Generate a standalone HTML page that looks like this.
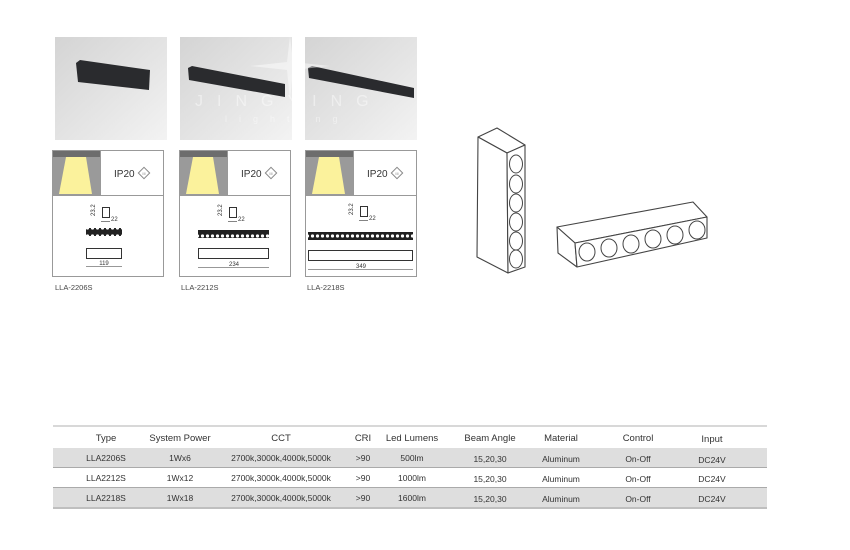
<!DOCTYPE html>
<html><head><meta charset="utf-8"><style>
html,body{margin:0;padding:0;background:#fff;width:850px;height:550px;overflow:hidden}
svg{display:block;font-family:"Liberation Sans",sans-serif}
</style></head><body>
<svg width="850" height="550" viewBox="0 0 850 550" xmlns="http://www.w3.org/2000/svg">
<defs>
<linearGradient id="bg" x1="0" y1="0" x2="1" y2="1">
<stop offset="0" stop-color="#d4d4d4"/><stop offset="0.6" stop-color="#e6e6e6"/><stop offset="1" stop-color="#f3f3f3"/>
</linearGradient>
<pattern id="dots" x="0" y="0" width="5" height="8" patternUnits="userSpaceOnUse">
<rect width="5" height="8" fill="#222"/><circle cx="2.5" cy="4" r="1.6" fill="#fff"/>
</pattern>
</defs>
<rect x="55" y="37" width="112" height="103" fill="url(#bg)"/>
<rect x="180" y="37" width="112" height="103" fill="url(#bg)"/>
<rect x="305" y="37" width="112" height="103" fill="url(#bg)"/>
<polygon points="76,63 80,60 150,70 149,90 78,82" fill="#2a2b2e"/>
<polygon points="188,68 192,66 285,84 285,97 189,80" fill="#2a2b2e"/>
<polygon points="308,68 312,66 414,88 414,98 309,78" fill="#2a2b2e"/>
<text x="195" y="106" font-size="16" fill="#fff" fill-opacity="0.45" letter-spacing="14">JINGYING</text>
<text x="225" y="122" font-size="9" fill="#fff" fill-opacity="0.45" letter-spacing="12">lighting</text>
<path d="M290 36 L293 62 L330 66 L293 70 L290 100 L287 70 L250 66 L287 62Z" fill="#fff" fill-opacity="0.45"/>

<g>
<rect x="52.5" y="150.5" width="111" height="126" fill="#fff" stroke="#999"/>
<rect x="53" y="151" width="47" height="44" fill="#9a9a9a"/>
<rect x="53" y="151" width="47" height="6" fill="#6d6d6d"/>
<polygon points="66,157 86,157 92,194 59,194" fill="#fbf29c"/>
<line x1="52" y1="195.5" x2="164" y2="195.5" stroke="#999"/>
<line x1="100.5" y1="150" x2="100.5" y2="195" stroke="#999"/>
<text x="114" y="177" font-size="10" fill="#333">IP20</text>
<g transform="translate(144,173)"><rect x="-4" y="-4" width="8" height="8" transform="rotate(45)" fill="none" stroke="#888"/><text x="0" y="2" font-size="4" text-anchor="middle" fill="#888">III</text></g>
<rect x="102.5" y="207.5" width="7" height="10" fill="none" stroke="#333"/>
<text x="92" y="213" font-size="6" fill="#333" transform="rotate(-90 95 213)">23.2</text>
<line x1="101" y1="221.5" x2="110" y2="221.5" stroke="#333" stroke-width="0.6"/>
<text x="111" y="221" font-size="6" fill="#333">22</text>
<rect x="86" y="228" width="36" height="8" fill="url(#dots)"/>
<rect x="86.5" y="248.5" width="35" height="10" fill="none" stroke="#333"/>
<line x1="86" y1="266.5" x2="122" y2="266.5" stroke="#333" stroke-width="0.6"/>
<text x="104" y="265" font-size="6" text-anchor="middle" fill="#333">119</text>
</g>
<g>
<rect x="179.5" y="150.5" width="111" height="126" fill="#fff" stroke="#999"/>
<rect x="180" y="151" width="47" height="44" fill="#9a9a9a"/>
<rect x="180" y="151" width="47" height="6" fill="#6d6d6d"/>
<polygon points="193,157 213,157 219,194 186,194" fill="#fbf29c"/>
<line x1="179" y1="195.5" x2="291" y2="195.5" stroke="#999"/>
<line x1="227.5" y1="150" x2="227.5" y2="195" stroke="#999"/>
<text x="241" y="177" font-size="10" fill="#333">IP20</text>
<g transform="translate(271,173)"><rect x="-4" y="-4" width="8" height="8" transform="rotate(45)" fill="none" stroke="#888"/><text x="0" y="2" font-size="4" text-anchor="middle" fill="#888">III</text></g>
<rect x="229.5" y="207.5" width="7" height="10" fill="none" stroke="#333"/>
<text x="219" y="213" font-size="6" fill="#333" transform="rotate(-90 222 213)">23.2</text>
<line x1="228" y1="221.5" x2="237" y2="221.5" stroke="#333" stroke-width="0.6"/>
<text x="238" y="221" font-size="6" fill="#333">22</text>
<rect x="198" y="230" width="71" height="8" fill="url(#dots)"/>
<rect x="198.5" y="248.5" width="70" height="10" fill="none" stroke="#333"/>
<line x1="198" y1="267.5" x2="269" y2="267.5" stroke="#333" stroke-width="0.6"/>
<text x="234" y="266" font-size="6" text-anchor="middle" fill="#333">234</text>
</g>
<g>
<rect x="305.5" y="150.5" width="111" height="126" fill="#fff" stroke="#999"/>
<rect x="306" y="151" width="47" height="44" fill="#9a9a9a"/>
<rect x="306" y="151" width="47" height="6" fill="#6d6d6d"/>
<polygon points="319,157 339,157 345,194 312,194" fill="#fbf29c"/>
<line x1="305" y1="195.5" x2="417" y2="195.5" stroke="#999"/>
<line x1="353.5" y1="150" x2="353.5" y2="195" stroke="#999"/>
<text x="367" y="177" font-size="10" fill="#333">IP20</text>
<g transform="translate(397,173)"><rect x="-4" y="-4" width="8" height="8" transform="rotate(45)" fill="none" stroke="#888"/><text x="0" y="2" font-size="4" text-anchor="middle" fill="#888">III</text></g>
<rect x="360.5" y="206.5" width="7" height="10" fill="none" stroke="#333"/>
<text x="350" y="212" font-size="6" fill="#333" transform="rotate(-90 353 212)">23.2</text>
<line x1="359" y1="220.5" x2="368" y2="220.5" stroke="#333" stroke-width="0.6"/>
<text x="369" y="220" font-size="6" fill="#333">22</text>
<rect x="308" y="232" width="105" height="8" fill="url(#dots)"/>
<rect x="308.5" y="250.5" width="104" height="10" fill="none" stroke="#333"/>
<line x1="308" y1="269.5" x2="413" y2="269.5" stroke="#333" stroke-width="0.6"/>
<text x="361" y="268" font-size="6" text-anchor="middle" fill="#333">349</text>
</g>
<text x="55" y="290" font-size="7.5" fill="#444">LLA-2206S</text>
<text x="181" y="290" font-size="7.5" fill="#444">LLA-2212S</text>
<text x="307" y="290" font-size="7.5" fill="#444">LLA-2218S</text>

<g fill="#fff" stroke="#444" stroke-width="1.1" stroke-linejoin="round">
<polygon points="478,137 497,128 525,145 507,153"/>
<polygon points="478,137 507,153 508,273 477,257"/>
<polygon points="507,153 525,145 525,267 508,273"/>
<g fill="none" stroke-width="1">
<ellipse cx="516" cy="164" rx="6.5" ry="9"/>
<ellipse cx="516" cy="184" rx="6.5" ry="9"/>
<ellipse cx="516" cy="203" rx="6.5" ry="9"/>
<ellipse cx="516" cy="222" rx="6.5" ry="9"/>
<ellipse cx="516" cy="241" rx="6.5" ry="9"/>
<ellipse cx="516" cy="259" rx="6.5" ry="9"/>
</g>
</g>
<g fill="#fff" stroke="#444" stroke-width="1.1" stroke-linejoin="round">
<polygon points="557,227 693,202 707,217 575,243"/>
<polygon points="557,227 575,243 577,267 558,253"/>
<polygon points="575,243 707,217 707,238 577,267"/>
<g fill="none" stroke-width="1">
<ellipse cx="587" cy="252" rx="8" ry="9"/>
<ellipse cx="609" cy="248" rx="8" ry="9"/>
<ellipse cx="631" cy="244" rx="8" ry="9"/>
<ellipse cx="653" cy="239" rx="8" ry="9"/>
<ellipse cx="675" cy="235" rx="8" ry="9"/>
<ellipse cx="697" cy="230" rx="8" ry="9"/>
</g>
</g>

<line x1="53" y1="426" x2="767" y2="426" stroke="#ccc" stroke-width="1.5"/>
<rect x="53" y="448" width="714" height="19" fill="#dedede"/>
<rect x="53" y="488" width="714" height="19" fill="#dedede"/>
<line x1="53" y1="467.5" x2="767" y2="467.5" stroke="#aaa"/>
<line x1="53" y1="487.5" x2="767" y2="487.5" stroke="#aaa"/>
<line x1="53" y1="508" x2="767" y2="508" stroke="#aaa" stroke-width="1.5"/>
<g font-size="9.5" fill="#333" text-anchor="middle">
<text x="106" y="441">Type</text><text x="180" y="441">System Power</text><text x="281" y="441">CCT</text><text x="363" y="441">CRI</text><text x="412" y="441">Led Lumens</text><text x="490" y="441">Beam Angle</text><text x="561" y="441">Material</text><text x="638" y="441">Control</text><text x="712" y="442">Input</text>
</g>
<g font-size="8.5" fill="#333" text-anchor="middle">
<text x="106" y="461">LLA2206S</text><text x="180" y="461">1Wx6</text><text x="281" y="461">2700k,3000k,4000k,5000k</text><text x="363" y="461">&gt;90</text><text x="412" y="461">500lm</text><text x="490" y="462">15,20,30</text><text x="561" y="462">Aluminum</text><text x="638" y="462">On-Off</text><text x="712" y="463">DC24V</text>
<text x="106" y="481">LLA2212S</text><text x="180" y="481">1Wx12</text><text x="281" y="481">2700k,3000k,4000k,5000k</text><text x="363" y="481">&gt;90</text><text x="412" y="481">1000lm</text><text x="490" y="482">15,20,30</text><text x="561" y="482">Aluminum</text><text x="638" y="482">On-Off</text><text x="712" y="482">DC24V</text>
<text x="106" y="501">LLA2218S</text><text x="180" y="501">1Wx18</text><text x="281" y="501">2700k,3000k,4000k,5000k</text><text x="363" y="501">&gt;90</text><text x="412" y="501">1600lm</text><text x="490" y="502">15,20,30</text><text x="561" y="502">Aluminum</text><text x="638" y="502">On-Off</text><text x="712" y="502">DC24V</text>
</g>
</svg>
</body></html>
